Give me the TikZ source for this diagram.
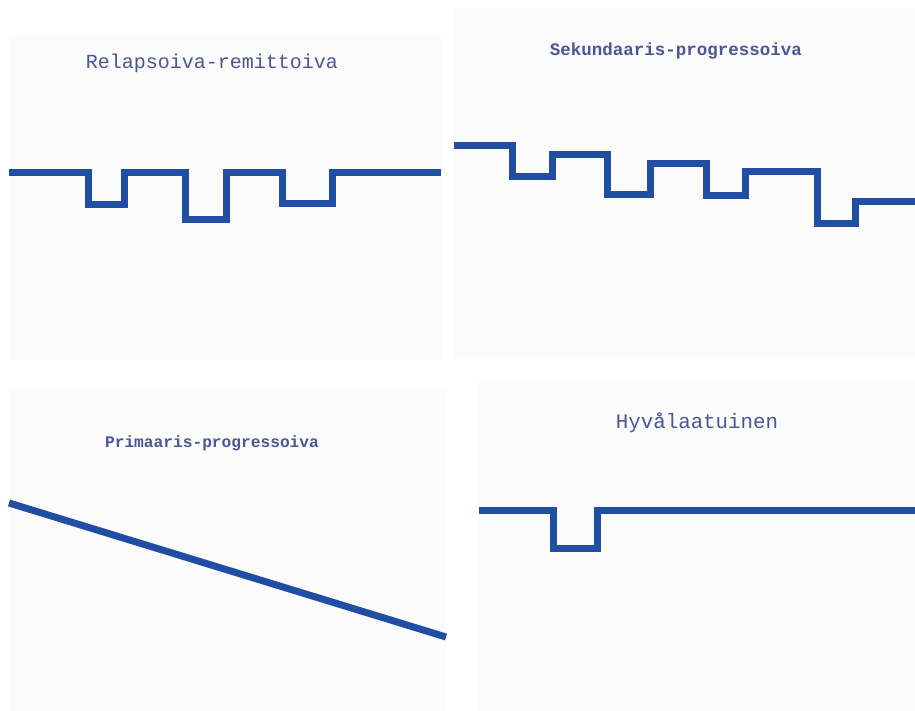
\documentclass[tikz,border=0pt]{standalone}
\usepackage{fontspec}
\setmonofont{Liberation Mono}
\definecolor{panelbg}{HTML}{FBFBFC}
\definecolor{course}{HTML}{1F4EA3}
\definecolor{titleblue}{HTML}{4A5794}
\tikzset{
    panel/.style={fill=panelbg, draw=none},
    course/.style={draw=course, line width=7pt, line join=miter},
    title/.style={text=titleblue, inner sep=0}
}

\begin{document}
\begin{tikzpicture}[x=1pt, y=-1pt]
    \useasboundingbox[fill=white] (0,0) rectangle (915,711);
    % taustat
    \fill[panel] (9,36) rectangle (441,360);
    \fill[panel] (454,8) rectangle (915,359);
    \fill[panel] (9,389) rectangle (446,711);
    \fill[panel] (479,381) rectangle (915,711);
    % otsikot
    \node[title, font=\ttfamily\fontsize{20}{24}\selectfont] (rr) at (212,63) {Relapsoiva-remittoiva};
    \node[title, font=\ttfamily\bfseries\fontsize{17.5}{21}\selectfont] (sp) at (676,51) {Sekundaaris-progressoiva};
    \node[title, font=\ttfamily\bfseries\fontsize{16.2}{20}\selectfont] (pp) at (212,443) {Primaaris-progressoiva};
    \node[title, font=\ttfamily\fontsize{20.8}{25}\selectfont] (hl) at (697,423) {Hyvålaatuinen};
    % taudinkulut
    \draw[course] (9,173) -| (88,205) -| (124,173) -| (185,220) -| (226,173)
        -| (282,204) -| (332,173) -- (441,173);
    \draw[course] (454,146) -| (512,177) -| (552,155) -| (607,195) -| (650,164)
        -| (706,196) -| (745,172) -| (817,224) -| (855,202) -- (915,202);
    \draw[course] (9,503) -- (446,637);
    \draw[course] (479,510) -| (553,548) -| (597,510) -- (915,510);
\end{tikzpicture}
\end{document}
